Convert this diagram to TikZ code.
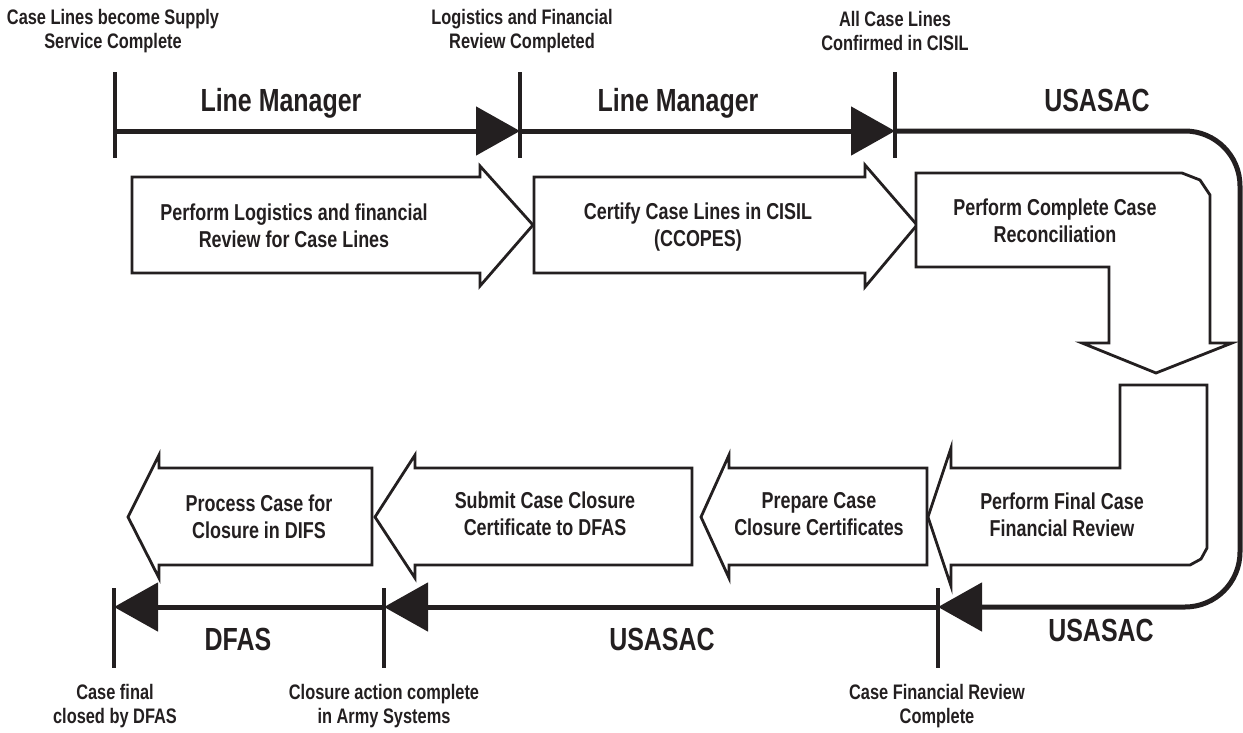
\documentclass[tikz,border=0pt]{standalone}
\usepackage{fontspec}
\setmainfont[FakeStretch=0.78]{Liberation Sans}
\usetikzlibrary{arrows.meta}
\definecolor{ink}{HTML}{231F20}
\begin{document}
\begin{tikzpicture}[x=1pt,y=-1pt,
  every node/.style={text=ink, inner sep=0pt},
  evt/.style={font=\fontsize{21}{24}\selectfont\bfseries, align=center},
  actor/.style={font=\fontsize{32}{36}\selectfont\bfseries, anchor=base},
  boxtxt/.style={font=\fontsize{23}{27}\selectfont\bfseries, align=center},
  tickmark/.style={draw=ink, line width=4pt},
  tl/.style={draw=ink, line width=5pt, -{Triangle[length=44pt,width=48pt]}},
  shp/.style={draw=ink, line width=2.8pt, fill=white, line join=miter}]
\useasboundingbox (0,0) rectangle (1243,732);

% timeline points
\coordinate (A) at (115,131);
\coordinate (B) at (520,131);
\coordinate (C) at (895,131);
\coordinate (D) at (938,607);
\coordinate (E) at (384,607);
\coordinate (F) at (114,607);

% timelines
\draw[tl] (A) -- (B);
\draw[tl] (B) -- (C);
\draw[tl, rounded corners=55pt] (C) -- (1240,131) -- (1240,607) -- (D);
\draw[tl] (D) -- (E);
\draw[tl] (E) -- (F);

% ticks
\foreach \p in {A,B,C} \draw[tickmark] (\p) ++(0,-59) -- ++(0,86);
\foreach \p in {D,E,F} \draw[tickmark] (\p) ++(0,-19) -- ++(0,80);

% process arrows
\draw[shp] (132,177) -- (480,177) -- (480,166) -- (533,225) -- (480,286) -- (480,273) -- (132,273) -- cycle;
\draw[shp] (534,177) -- (865,177) -- (865,165) -- (917,225) -- (865,287) -- (865,273) -- (534,273) -- cycle;
\draw[shp] (916,173) -- (1182,173) -- (1200,180) -- (1210,195) -- (1210,343) -- (1232,343) -- (1156,373) -- (1082,343) -- (1109,343) -- (1109,267) -- (916,267) -- cycle;
\draw[shp] (1120,385) -- (1207,385) -- (1207,548) -- (1201,559) -- (1190,565) -- (951,565) -- (951,586) -- (928,517) -- (951,448) -- (951,468) -- (1120,468) -- cycle;
\draw[shp] (927,468) -- (927,565) -- (729,565) -- (729,578) -- (701,517) -- (729,455) -- (729,468) -- cycle;
\draw[shp] (692,468) -- (692,565) -- (415,565) -- (415,578) -- (375,517) -- (415,455) -- (415,468) -- cycle;
\draw[shp] (372,468) -- (372,565) -- (159,565) -- (159,578) -- (128,517) -- (159,455) -- (159,468) -- cycle;

% process texts
\node[boxtxt] (p1) at (294,226) {Perform Logistics and financial\\Review for Case Lines};
\node[boxtxt] (p2) at (698,227) {Certify Case Lines in CISIL\\(CCOPES)};
\node[boxtxt] (p3) at (1055,221) {Perform Complete Case\\Reconciliation};
\node[boxtxt] (p4) at (1062,515) {Perform Final Case\\Financial Review};
\node[boxtxt] (p5) at (819,514) {Prepare Case\\Closure Certificates};
\node[boxtxt] (p6) at (545,514) {Submit Case Closure\\Certificate to DFAS};
\node[boxtxt] (p7) at (259,517) {Process Case for\\Closure in DIFS};

% actors
\node[actor] (a1) at (281,111) {Line Manager};
\node[actor] (a2) at (678,111) {Line Manager};
\node[actor] (a3) at (1097,111) {USASAC};
\node[actor] (a4) at (1101,641) {USASAC};
\node[actor] (a5) at (662,650) {USASAC};
\node[actor] (a6) at (238,650) {DFAS};

% events
\node[evt] (e1) at (113,31) {Case Lines become Supply\\Service Complete};
\node[evt] (e2) at (522,31) {Logistics and Financial\\Review Completed};
\node[evt] (e3) at (895,31) {All Case Lines\\Confirmed in CISIL};
\node[evt] (e4) at (115,706) {Case final\\closed by DFAS};
\node[evt] (e5) at (384,706) {Closure action complete\\in Army Systems};
\node[evt] (e6) at (937,706) {Case Financial Review\\Complete};
\end{tikzpicture}
\end{document}
